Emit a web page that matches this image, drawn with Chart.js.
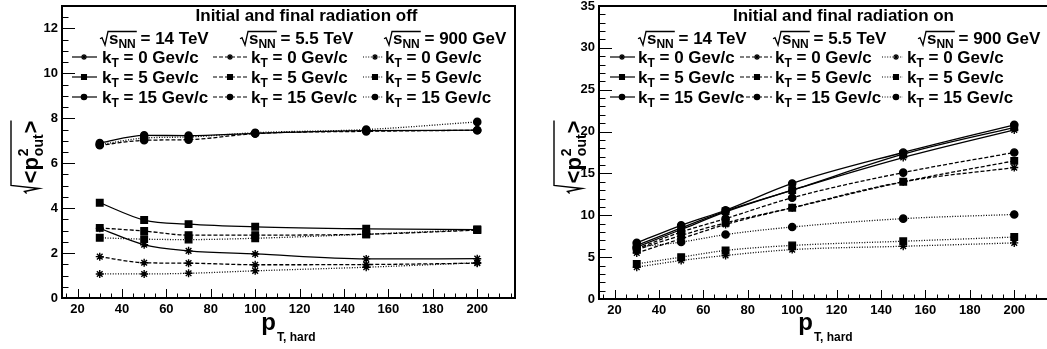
<!DOCTYPE html>
<html>
<head>
<meta charset="utf-8">
<script src="https://cdn.jsdelivr.net/npm/chart.js@4.4.0/dist/chart.umd.min.js"></script>
<style>
  html, body { margin: 0; padding: 0; background: #fff; overflow: hidden; }
  #wrap { position: relative; width: 1047px; height: 349px; overflow: hidden; }
  canvas { position: absolute; top: 0; }
  #offChart { left: 0; }
  #onChart { left: 523px; }
</style>
</head>
<body>
<div id="wrap">
  <canvas id="offChart" width="523" height="349"></canvas>
  <canvas id="onChart" width="540" height="349"></canvas>
</div>
<script>
// p_T,hard values (x axis)
const ptHard = [30, 50, 70, 100, 150, 200];
const xTickLabels = [20, 40, 60, 80, 100, 120, 140, 160, 180, 200];
const offYTicks = [0, 2, 4, 6, 8, 10, 12];
const onYTicks = [0, 5, 10, 15, 20, 25, 30, 35];

const energies = ['14 TeV', '5.5 TeV', '900 GeV'];
const ktValues = ['0', '5', '15'];

// radiation off
const off14Kt0 = [3.10, 2.37, 2.10, 1.96, 1.74, 1.75];
const off14Kt5 = [4.24, 3.47, 3.29, 3.17, 3.08, 3.04];
const off14Kt15 = [6.90, 7.24, 7.23, 7.33, 7.45, 7.47];
const off55Kt0 = [1.84, 1.57, 1.55, 1.48, 1.49, 1.55];
const off55Kt5 = [3.12, 2.98, 2.80, 2.80, 2.84, 3.02];
const off55Kt15 = [6.80, 7.02, 7.05, 7.32, 7.42, 7.47];
const off09Kt0 = [1.07, 1.07, 1.10, 1.21, 1.37, 1.57];
const off09Kt5 = [2.68, 2.62, 2.60, 2.66, 2.84, 3.05];
const off09Kt15 = [6.83, 7.12, 7.17, 7.36, 7.50, 7.84];

// radiation on
const on14Kt0 = [6.2, 8.3, 10.4, 13.0, 16.9, 20.2];
const on14Kt5 = [6.4, 8.5, 10.5, 13.0, 17.3, 20.5];
const on14Kt15 = [6.7, 8.8, 10.6, 13.8, 17.5, 20.8];
const on55Kt0 = [5.5, 7.2, 8.9, 10.9, 14.0, 15.7];
const on55Kt5 = [5.9, 7.6, 9.1, 10.9, 14.0, 16.5];
const on55Kt15 = [6.0, 8.0, 9.6, 12.1, 15.1, 17.5];
const on09Kt0 = [3.8, 4.6, 5.2, 5.9, 6.3, 6.7];
const on09Kt5 = [4.2, 5.0, 5.8, 6.4, 6.9, 7.4];
const on09Kt15 = [6.2, 6.8, 7.7, 8.6, 9.6, 10.1];

const FONT = '"Liberation Sans", Arial, Helvetica, sans-serif';
const font = size => 'bold ' + size + 'px ' + FONT;

const energyDash = [[], [4, 2], [1, 1.6]];
const ktStyle = ['star', 'rect', 'circle'];
const ktRadius = [4, 4.6, 3.6];

const buildDatasets = (series) => {
  const sets = [];
  series.forEach((row, e) => {
    row.forEach((vals, k) => {
      sets.push({
        data: ptHard.map((x, i) => ({ x, y: vals[i] })),
        borderColor: '#000',
        backgroundColor: '#000',
        borderWidth: 1.3,
        borderDash: energyDash[e],
        pointStyle: ktStyle[k],
        pointRadius: ktRadius[k],
        pointBorderWidth: 1.4,
        cubicInterpolationMode: 'monotone',
        fill: false
      });
    });
  });
  return sets;
};

// draw text pieces with sub/superscripts, returns end x
const richText = (ctx, x, y, parts, size) => {
  let cx = x;
  ctx.textBaseline = 'alphabetic';
  ctx.textAlign = 'left';
  parts.forEach(([t, kind, t2]) => {
    if (kind === 'sub') {
      ctx.font = font(Math.round(size * 0.68));
      ctx.fillText(t, cx, y + size * 0.22);
      cx += ctx.measureText(t).width;
    } else if (kind === 'stack') {
      ctx.font = font(Math.round(size * 0.62));
      ctx.fillText(t, cx + 1, y - size * 0.45);
      const w1 = ctx.measureText(t).width;
      ctx.fillText(t2, cx + 1, y + size * 0.22);
      cx += Math.max(w1, ctx.measureText(t2).width) + 2;
    } else {
      ctx.font = font(size);
      ctx.fillText(t, cx, y);
      cx += ctx.measureText(t).width;
    }
  });
  return cx;
};

const measureRich = (ctx, parts, size) => {
  ctx.save();
  ctx.globalAlpha = 0;
  const w = richText(ctx, 0, -1000, parts, size);
  ctx.restore();
  return w;
};

const sqrtSign = (ctx, x, y, top, w, lw) => {
  const h = y - top;
  ctx.beginPath();
  ctx.moveTo(x, y - h * 0.42);
  ctx.lineTo(x + 2, y - h * 0.5);
  ctx.lineTo(x + 5, y + 1);
  ctx.lineTo(x + 8, top);
  ctx.lineTo(x + 10 + w, top);
  ctx.lineWidth = lw;
  ctx.setLineDash([]);
  ctx.stroke();
};

const rootFrame = {
  id: 'rootFrame',
  afterDraw(chart, args, opts) {
    const { ctx, chartArea: a, scales } = chart;
    const xs = scales.x, ys = scales.y;
    ctx.save();
    ctx.strokeStyle = '#000';
    ctx.fillStyle = '#000';
    ctx.setLineDash([]);

    // inward ticks
    ctx.lineWidth = 1;
    ctx.beginPath();
    for (let v = Math.ceil(xs.min / 5) * 5; v <= xs.max; v += 5) {
      const px = Math.round(xs.getPixelForValue(v)) + 0.5;
      const len = v % 20 === 0 ? 9 : 4.5;
      ctx.moveTo(px, a.bottom);
      ctx.lineTo(px, a.bottom - len);
    }
    for (let v = 0; v <= ys.max + 1e-9; v += opts.yMinor) {
      const py = Math.round(ys.getPixelForValue(v)) + 0.5;
      const major = Math.abs(v / opts.yMajor - Math.round(v / opts.yMajor)) < 1e-6;
      ctx.moveTo(a.left, py);
      ctx.lineTo(a.left + (major ? 13 : 6.5), py);
    }
    ctx.stroke();

    // frame
    ctx.lineWidth = 2;
    ctx.strokeRect(a.left, a.top, a.right - a.left, a.bottom - a.top);

    // title
    ctx.font = font(17);
    ctx.textAlign = 'center';
    ctx.textBaseline = 'alphabetic';
    ctx.fillText(opts.title, (a.left + a.right) / 2 + 18, 21);

    // legend
    const lg = opts.legend;
    lg.cols.forEach((col, e) => {
      const rad = [['s'], ['NN', 'sub']];
      const rw = measureRich(ctx, rad, 17);
      ctx.fillStyle = '#000';
      sqrtSign(ctx, col.header, lg.headerY, lg.headerY - 12.5, rw, 1.3);
      richText(ctx, col.header + 9, lg.headerY, rad.concat([[' = ' + energies[e]]]), 17);

      lg.rows.forEach((ry, k) => {
        ctx.beginPath();
        ctx.setLineDash(energyDash[e]);
        ctx.lineWidth = 1.2;
        ctx.moveTo(col.from, ry);
        ctx.lineTo(col.to, ry);
        ctx.stroke();
        ctx.setLineDash([]);
        Chart.helpers.drawPoint(ctx, { pointStyle: ktStyle[k], radius: ktRadius[k] * 0.75, rotation: 0, borderWidth: 1 }, col.marker, ry);
        richText(ctx, col.text, ry + 6, [['k'], ['T', 'sub'], [' = ' + ktValues[k] + ' Gev/c']], 17);
      });
    });

    // x axis title
    ctx.font = font(24);
    const pw = ctx.measureText('p').width;
    ctx.font = font(12);
    const sw = ctx.measureText('T, hard').width;
    const x0 = (a.left + a.right) / 2 - (pw + sw + 1) / 2;
    ctx.font = font(24);
    ctx.textAlign = 'left';
    ctx.fillText('p', x0, 330);
    ctx.font = font(12);
    ctx.fillText('T, hard', x0 + pw + 1, 341);

    // y axis title, rotated
    ctx.save();
    ctx.translate(opts.yTitleX, 157);
    ctx.rotate(-Math.PI / 2);
    const yParts = [['<p'], ['2', 'stack', 'out'], ['>']];
    const yw = measureRich(ctx, yParts, 22);
    const sx = -(yw + 10) / 2;
    sqrtSign(ctx, sx, 0, -27, yw, 1.4);
    richText(ctx, sx + 10, 0, yParts, 22);
    ctx.restore();

    ctx.restore();
  }
};

const makeChart = (id, series, p) => new Chart(document.getElementById(id), {
  type: 'line',
  data: { datasets: buildDatasets(series) },
  plugins: [rootFrame],
  options: {
    responsive: false,
    animation: false,
    devicePixelRatio: 1,
    layout: { padding: { left: 0, right: p.padRight, top: 5, bottom: 0 } },
    plugins: {
      legend: { display: false },
      tooltip: { enabled: false },
      rootFrame: p.frame
    },
    scales: {
      x: {
        type: 'linear',
        min: 13,
        max: 217,
        grid: { display: false, drawTicks: false },
        border: { display: false },
        ticks: { font: { family: FONT, weight: 'bold', size: 13 }, color: '#000', padding: 4, maxRotation: 0, autoSkip: false },
        afterBuildTicks: s => { s.ticks = xTickLabels.map(v => ({ value: v })); },
        afterFit: s => { s.height = p.xAxisHeight; s.paddingLeft = 0; s.paddingRight = 0; }
      },
      y: {
        type: 'linear',
        min: 0,
        max: p.yMax,
        grid: { display: false, drawTicks: false },
        border: { display: false },
        ticks: { font: { family: FONT, weight: 'bold', size: 13 }, color: '#000', padding: 4 },
        afterBuildTicks: s => { s.ticks = p.yTicks.map(v => ({ value: v })); },
        afterFit: s => { s.width = p.yAxisWidth; s.paddingTop = 0; s.paddingBottom = 0; }
      }
    }
  }
});

try {
  makeChart('offChart', [
    [off14Kt0, off14Kt5, off14Kt15],
    [off55Kt0, off55Kt5, off55Kt15],
    [off09Kt0, off09Kt5, off09Kt15]
  ], {
    padRight: 8, xAxisHeight: 51, yAxisWidth: 62, yMax: 13, yTicks: offYTicks,
    frame: {
      title: 'Initial and final radiation off', yMajor: 2, yMinor: 0.5, yTitleX: 38,
      legend: {
        headerY: 44, rows: [57, 77, 97],
        cols: [
          { header: 100, from: 72, to: 97, marker: 84, text: 102 },
          { header: 240, from: 213, to: 248, marker: 230, text: 251 },
          { header: 384, from: 363, to: 383, marker: 375, text: 385 }
        ]
      }
    }
  });

  makeChart('onChart', [
    [on14Kt0, on14Kt5, on14Kt15],
    [on55Kt0, on55Kt5, on55Kt15],
    [on09Kt0, on09Kt5, on09Kt15]
  ], {
    padRight: 11, xAxisHeight: 50, yAxisWidth: 76, yMax: 35, yTicks: onYTicks,
    frame: {
      title: 'Initial and final radiation on', yMajor: 5, yMinor: 1, yTitleX: 58,
      legend: {
        headerY: 44, rows: [57, 77, 97],
        cols: [
          { header: 115, from: 87, to: 112, marker: 99, text: 115 },
          { header: 250, from: 217, to: 249, marker: 234, text: 252 },
          { header: 395, from: 359, to: 380, marker: 373, text: 384 }
        ]
      }
    }
  });
} catch (error) {
  console.error('Error creating charts:', error);
}
</script>
</body>
</html>
